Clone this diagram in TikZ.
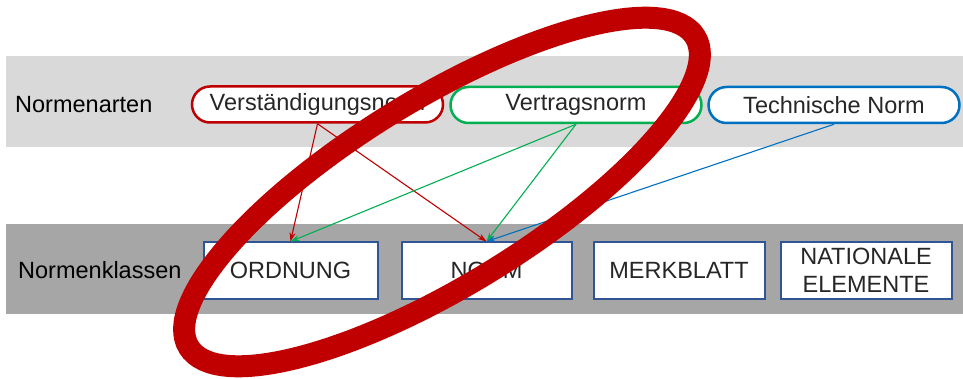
\documentclass[tikz,border=0pt]{standalone}
\usepackage{fontspec}
\setmainfont{Liberation Sans}
\usetikzlibrary{arrows.meta}
\definecolor{ringred}{HTML}{C00000}
\definecolor{pillred}{HTML}{C00000}
\definecolor{pillgreen}{HTML}{00B050}
\definecolor{pillblue}{HTML}{0070C0}
\definecolor{boxblue}{HTML}{2F5597}
\definecolor{txt}{HTML}{262626}
\definecolor{bandlight}{HTML}{D9D9D9}
\definecolor{banddark}{HTML}{A6A6A6}
\tikzset{
  pill/.style={draw, line width=2.5pt, fill=white, rounded corners=18pt,
    minimum width=251pt, minimum height=36pt, inner sep=0pt, text=txt,
    font=\fontsize{23.5}{28}\selectfont},
  klasse/.style={draw=boxblue, line width=2pt, fill=white,
    minimum height=56pt, inner sep=0pt, text=txt, align=center,
    font=\fontsize{23.5}{28}\selectfont},
  rowlabel/.style={anchor=west, inner sep=0pt, text=black,
    font=\fontsize{23.5}{28}\selectfont},
  link/.style={line width=1.1pt, -{Stealth[length=9pt,width=6pt]}},
}
\begin{document}
\begin{tikzpicture}[x=1pt,y=-1pt]
\useasboundingbox (0,0) rectangle (963,379);
\fill[white] (0,0) rectangle (963,379);
% bands
\fill[bandlight] (6,56) rectangle (963,147);
\fill[banddark] (6,224) rectangle (963,314);
% row labels
\node[rowlabel] (arten) at (15,105) {Normenarten};
\node[rowlabel] (klassen) at (18,270) {Normenklassen};
% pills
\node[pill, draw=pillred] (vn) at (317.5,104.5) {Verständigungsnorm};
\node[pill, draw=pillgreen] (vt) at (576,105) {Vertragsnorm};
\node[pill, draw=pillblue] (tn) at (834,105) {Technische Norm};
% boxes
\node[klasse, minimum width=174pt] (ord) at (290.5,270.5) {ORDNUNG};
\node[klasse, minimum width=170pt] (norm) at (486.5,270.5) {NORM};
\node[klasse, minimum width=171pt] (merk) at (679,270.5) {MERKBLATT};
\node[klasse, minimum width=171pt] (nat) at (866,270.5) {NATIONALE\\ELEMENTE};
% links
\draw[link, pillred] (vn.south) -- (ord.north);
\draw[link, pillred] (vn.south) -- (norm.north);
\draw[link, pillgreen] (vt.south) -- (ord.north);
\draw[link, pillgreen] (vt.south) -- (norm.north);
\draw[link, pillblue] (tn.south) -- (norm.north);
% red ring
\coordinate (c) at (442,192);
\draw[ringred, line width=22pt, rotate around={31.5:(c)}] (c) ellipse [x radius=297pt, y radius=93pt];
\end{tikzpicture}
\end{document}
